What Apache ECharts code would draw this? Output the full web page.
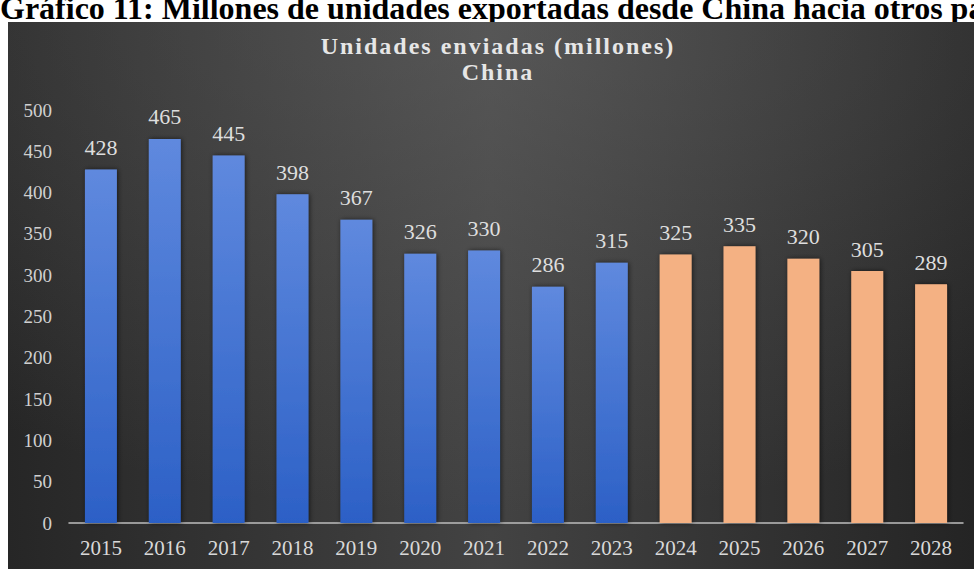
<!DOCTYPE html>
<html>
<head>
<meta charset="utf-8">
<script src="https://cdn.jsdelivr.net/npm/echarts@6/dist/echarts.min.js"></script>
<style>
  html, body { margin: 0; padding: 0; background: #ffffff; }
  #chart { width: 974px; height: 569px; }
  /* wider tracking for the two-line chart heading */
  #chart text[style*="24px"] { letter-spacing: 2px; }
</style>
</head>
<body>
<div id="chart"></div>
<script>
// Years on the category axis
const years = ['2015', '2016', '2017', '2018', '2019', '2020', '2021',
               '2022', '2023', '2024', '2025', '2026', '2027', '2028'];
// Shipped units (millions), recorded years 2015–2023
const shippedActual = [428, 465, 445, 398, 367, 326, 330, 286, 315];
// Shipped units (millions), projected years 2024–2028
const shippedForecast = [325, 335, 320, 305, 289];
// Value axis ticks
const yMin = 0, yMax = 500, yStep = 50;

const serif = '"Liberation Serif", "DejaVu Serif", "Times New Roman", serif';

const blueFill = new echarts.graphic.LinearGradient(0, 0, 0, 1, [
  { offset: 0, color: '#5f89de' },
  { offset: 1, color: '#2c60c6' }
]);
const orangeFill = '#f4b183';

const barData = years.map((y, i) => {
  const isActual = i < shippedActual.length;
  const v = isActual ? shippedActual[i] : shippedForecast[i - shippedActual.length];
  return { value: v, itemStyle: { color: isActual ? blueFill : orangeFill } };
});

const chart = echarts.init(document.getElementById('chart'), null, { renderer: 'svg' });

chart.setOption({
  backgroundColor: '#ffffff',
  animation: false,
  graphic: [
    {
      type: 'text', left: 0, top: -8, z: 0,
      style: {
        text: 'Gráfico 11: Millones de unidades exportadas desde China hacia otros países',
        font: 'bold 32px ' + serif, fill: '#000000'
      }
    },
    {
      type: 'rect', z: 1, silent: true,
      shape: { x: 8, y: 22, width: 966, height: 547 },
      style: {
        fill: new echarts.graphic.LinearGradient(0, 0, 1, 0, [
          { offset: 0, color: '#262626' },
          { offset: 0.5, color: '#434343' },
          { offset: 1, color: '#242424' }
        ])
      }
    },
    {
      type: 'rect', z: 2, silent: true,
      shape: { x: 8, y: 22, width: 966, height: 547 },
      style: {
        fill: new echarts.graphic.RadialGradient(0.5, 0, 0.9, [
          { offset: 0, color: 'rgba(110,110,110,0.45)' },
          { offset: 1, color: 'rgba(110,110,110,0)' }
        ])
      }
    },
    {
      type: 'text', x: 498, y: 46, z: 10,
      style: {
        text: 'Unidades enviadas (millones)',
        font: 'bold 24px ' + serif, fill: '#e6e6e6',
        align: 'center', verticalAlign: 'middle',
        shadowColor: 'rgba(0,0,0,0.7)', shadowBlur: 3, shadowOffsetY: 1
      }
    },
    {
      type: 'text', x: 498, y: 72, z: 10,
      style: {
        text: 'China',
        font: 'bold 24px ' + serif, fill: '#e6e6e6',
        align: 'center', verticalAlign: 'middle',
        shadowColor: 'rgba(0,0,0,0.7)', shadowBlur: 3, shadowOffsetY: 1
      }
    }
  ],
  grid: { left: 69, right: 11, top: 110, bottom: 46, containLabel: false },
  xAxis: {
    type: 'category',
    data: years,
    z: 5,
    axisLine: { lineStyle: { color: '#bdbdbd', width: 1.5 } },
    axisTick: { show: false },
    axisLabel: { color: '#d9d9d9', fontFamily: serif, fontSize: 21, margin: 14 }
  },
  yAxis: {
    type: 'value',
    min: yMin, max: yMax, interval: yStep,
    z: 5,
    axisLine: { show: false },
    axisTick: { show: false },
    splitLine: { show: false },
    axisLabel: { color: '#d0d0d0', fontFamily: serif, fontSize: 19, margin: 17 }
  },
  series: [{
    type: 'bar',
    z: 5,
    barWidth: '50%',
    data: barData,
    itemStyle: {
      shadowColor: 'rgba(0,0,0,0.6)', shadowBlur: 5, shadowOffsetX: 1
    },
    label: {
      show: true, position: 'top', distance: 11,
      color: '#dedede', fontFamily: serif, fontSize: 22
    }
  }]
});
</script>
</body>
</html>
